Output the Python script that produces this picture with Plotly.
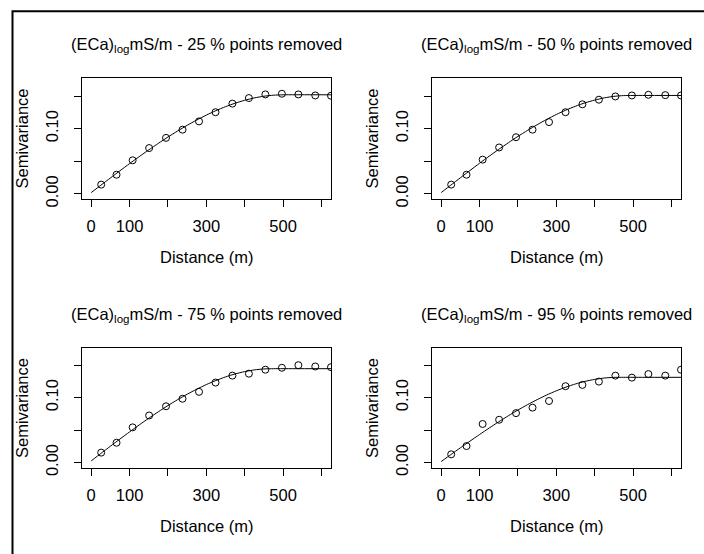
import plotly.graph_objects as go

# ---- data ----
lag_dist = [26, 66, 108, 151, 195, 238, 281, 324, 368, 411, 454, 497, 540, 584, 625]

gamma_25 = [0.0142, 0.0294, 0.0515, 0.0703, 0.0859, 0.0985, 0.1112, 0.1253, 0.1385, 0.1470, 0.1526, 0.1536, 0.1526, 0.1510, 0.1506]
gamma_50 = [0.0142, 0.0294, 0.0525, 0.0712, 0.0869, 0.0985, 0.1101, 0.1253, 0.1374, 0.1445, 0.1495, 0.1510, 0.1520, 0.1515, 0.1510]
gamma_75 = [0.0152, 0.0304, 0.0541, 0.0724, 0.0866, 0.0982, 0.1088, 0.1231, 0.1338, 0.1368, 0.1429, 0.1459, 0.1499, 0.1479, 0.1468]
gamma_95 = [0.0126, 0.0253, 0.0593, 0.0658, 0.0760, 0.0845, 0.0947, 0.1175, 0.1195, 0.1246, 0.1338, 0.1307, 0.1362, 0.1338, 0.1429]

model_dist = [0, 25, 50, 75, 100, 125, 150, 175, 200, 225, 250, 275, 300, 325, 350, 375, 400, 425, 450, 475, 500, 625]
model_25 = [0.0020, 0.0132, 0.0244, 0.0355, 0.0464, 0.0571, 0.0675, 0.0775, 0.0872, 0.0964, 0.1051, 0.1133, 0.1208, 0.1277, 0.1338, 0.1391, 0.1436, 0.1472, 0.1498, 0.1514, 0.1520, 0.1520]
model_50 = [0.0020, 0.0134, 0.0247, 0.0359, 0.0470, 0.0578, 0.0683, 0.0784, 0.0882, 0.0974, 0.1061, 0.1143, 0.1218, 0.1285, 0.1345, 0.1397, 0.1439, 0.1473, 0.1496, 0.1508, 0.1510, 0.1510]
model_75 = [0.0025, 0.0138, 0.0251, 0.0362, 0.0471, 0.0578, 0.0682, 0.0781, 0.0877, 0.0967, 0.1051, 0.1129, 0.1200, 0.1263, 0.1318, 0.1364, 0.1400, 0.1426, 0.1441, 0.1445, 0.1445, 0.1445]
model_95 = [0.0015, 0.0121, 0.0226, 0.0329, 0.0431, 0.0531, 0.0627, 0.0720, 0.0808, 0.0891, 0.0968, 0.1040, 0.1104, 0.1161, 0.1210, 0.1250, 0.1280, 0.1301, 0.1311, 0.1312, 0.1312, 0.1312]

pct_removed = ["25", "50", "75", "95"]
x_labeled_ticks = [0, 100, 300, 500]
x_unlabeled_ticks = [200, 400, 600]
y_labeled_ticks = [0.0, 0.10]
y_unlabeled_ticks = [0.05, 0.15]

# ---- layout geometry (pixels) ----
W, H = 704, 554
FONT = "Liberation Sans, Arial, sans-serif"
FS = 16.5

panels = [
    # (points, model, x0, x1, ytop, ybot, yrange)
    (gamma_25, model_25, 82, 331, 79, 202, [-0.008, 0.178]),
    (gamma_50, model_50, 432, 681, 79, 202, [-0.008, 0.178]),
    (gamma_75, model_75, 82, 331, 353, 475, [-0.0087, 0.1765]),
    (gamma_95, model_95, 432, 681, 353, 475, [-0.0087, 0.1765]),
]

fig = go.Figure()
annotations = []
layout = dict(
    width=W, height=H,
    margin=dict(l=0, r=0, t=0, b=0),
    paper_bgcolor="white", plot_bgcolor="white",
    showlegend=False,
    font=dict(family=FONT, size=FS, color="black"),
)

for i, (pts, mdl, x0, x1, yt, yb, yr) in enumerate(panels):
    k = "" if i == 0 else str(i + 1)
    xa, ya = "x" + k, "y" + k
    fig.add_trace(go.Scatter(
        x=model_dist, y=mdl, mode="lines", xaxis=xa, yaxis=ya,
        line=dict(color="black", width=1, shape="spline", smoothing=0.6),
        hoverinfo="skip"))
    fig.add_trace(go.Scatter(
        x=lag_dist, y=pts, mode="markers", xaxis=xa, yaxis=ya,
        marker=dict(symbol="circle-open", size=7, color="black", line=dict(width=1, color="black"))))
    axcommon = dict(showgrid=False, zeroline=False, showline=True, linecolor="black", linewidth=1,
                    mirror=True, ticks="outside", ticklen=7, tickwidth=1, tickcolor="black",
                    tickfont=dict(family=FONT, size=FS, color="black"))
    layout["xaxis" + k] = dict(domain=[x0 / W, x1 / W], anchor=ya, range=[-24, 625],
                               tickmode="array", tickvals=x_labeled_ticks,
                               tickformat="d",
                               minor=dict(tickmode="array", tickvals=x_unlabeled_ticks, ticks="outside",
                                          ticklen=7, tickwidth=1, tickcolor="black", showgrid=False),
                               ticklabelstandoff=5, **axcommon)
    layout["yaxis" + k] = dict(domain=[1 - yb / H, 1 - yt / H], anchor=xa, range=yr,
                               tickmode="array", tickvals=y_labeled_ticks, tickformat=".2f",
                               minor=dict(tickmode="array", tickvals=y_unlabeled_ticks, ticks="outside",
                                          ticklen=7, tickwidth=1, tickcolor="black", showgrid=False),
                               tickangle=-90, ticklabelstandoff=9, **axcommon)
    cx = (x0 + x1) / 2 / W
    annotations.append(dict(
        text="(ECa)<sub>log</sub>mS/m - %s %% points removed" % pct_removed[i],
        x=cx, y=1 - (yt - 33) / H, xref="paper", yref="paper",
        xanchor="center", yanchor="middle", showarrow=False,
        font=dict(family=FONT, size=FS, color="black")))
    annotations.append(dict(
        text="Distance (m)", x=cx, y=1 - (yb + 59) / H, xref="paper", yref="paper",
        xanchor="center", yanchor="middle", showarrow=False,
        font=dict(family=FONT, size=FS, color="black")))
    annotations.append(dict(
        text="Semivariance", x=(x0 - 60) / W, y=1 - (yt + yb) / 2 / H, xref="paper", yref="paper",
        xanchor="center", yanchor="middle", textangle=-90, showarrow=False,
        font=dict(family=FONT, size=FS, color="black")))

layout["annotations"] = annotations
layout["shapes"] = [dict(type="rect", xref="paper", yref="paper",
                         x0=12.5 / W, x1=1.05, y0=-0.05, y1=1 - 11.5 / H,
                         line=dict(color="black", width=2), fillcolor="rgba(0,0,0,0)")]
fig.update_layout(**layout)
fig.write_html("out.html", config={"displayModeBar": False},
               post_script="document.body.style.margin='0px';document.body.style.overflow='hidden';")
